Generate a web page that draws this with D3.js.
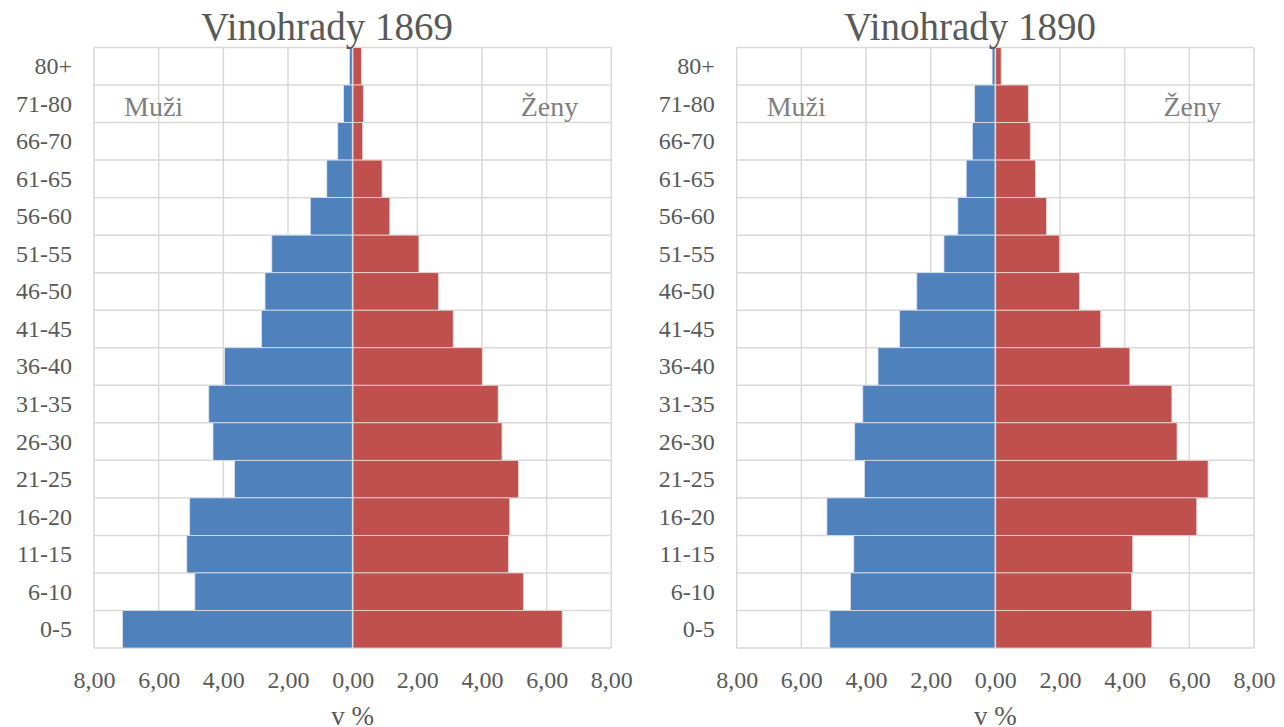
<!DOCTYPE html>
<html>
<head>
<meta charset="utf-8">
<script src="https://cdn.jsdelivr.net/npm/d3@7"></script>
<style>
  body { margin: 0; background: #fff; }
  svg text { font-family: "Liberation Serif", "DejaVu Serif", serif; fill: #595959; }
  .grid line { stroke: #d9d9d9; stroke-width: 1.5; }
</style>
</head>
<body>
<div id="chart"></div>
<script>
// age groups listed top to bottom, as in the picture
var ageGroups = ['80+','71-80','66-70','61-65','56-60','51-55','46-50','41-45',
  '36-40','31-35','26-30','21-25','16-20','11-15','6-10','0-5'];

var men1869   = [0.10, 0.28, 0.46, 0.80, 1.31, 2.50, 2.71, 2.82, 3.96, 4.45, 4.32, 3.65, 5.04, 5.13, 4.88, 7.12];
var women1869 = [0.27, 0.33, 0.31, 0.91, 1.15, 2.05, 2.66, 3.11, 4.01, 4.50, 4.62, 5.13, 4.86, 4.82, 5.28, 6.48];

var men1890   = [0.10, 0.64, 0.71, 0.90, 1.16, 1.59, 2.43, 2.96, 3.63, 4.10, 4.35, 4.05, 5.21, 4.38, 4.48, 5.12];
var women1890 = [0.18, 1.02, 1.08, 1.24, 1.58, 1.98, 2.60, 3.26, 4.16, 5.46, 5.62, 6.58, 6.23, 4.25, 4.21, 4.84];

var xTicks = [-8, -6, -4, -2, 0, 2, 4, 6, 8];

var panels = [
  { title: 'Vinohrady 1869', men: men1869, women: women1869, left: 94, right: 611.3, titleX: 327 },
  { title: 'Vinohrady 1890', men: men1890, women: women1890, left: 736.7, right: 1254, titleX: 970 }
];

var W = 1284, H = 727, plotTop = 47.5, plotBottom = 648;

var svg = d3.select('#chart').append('svg')
  .attr('width', W).attr('height', H);

var fmt = function(d) { return Math.abs(d).toFixed(2).replace('.', ','); };

panels.forEach(drawPanel);

function drawPanel(p) {
  var x = d3.scaleLinear().domain([-8, 8]).range([p.left, p.right]);
  var y = d3.scaleBand().domain(ageGroups).range([plotTop, plotBottom]).padding(0);

  var g = svg.append('g');

  // gridlines
  var grid = g.append('g').attr('class', 'grid');
  grid.selectAll('line.v')
    .data(xTicks)
    .enter().append('line')
    .attr('x1', d => x(d)).attr('x2', d => x(d))
    .attr('y1', plotTop).attr('y2', plotBottom);
  grid.selectAll('line.h')
    .data(ageGroups.concat(['end']))
    .enter().append('line')
    .attr('x1', p.left).attr('x2', p.right)
    .attr('y1', (d, i) => plotTop + i * y.step())
    .attr('y2', (d, i) => plotTop + i * y.step());

  // bars
  g.selectAll('rect.men')
    .data(p.men)
    .enter().append('rect')
    .attr('class', 'men')
    .attr('x', d => x(-d))
    .attr('width', d => x(0) - x(-d))
    .attr('y', (d, i) => y(ageGroups[i]))
    .attr('height', y.bandwidth())
    .attr('fill', '#4f81bd')
    .attr('stroke', '#dde4ee').attr('stroke-width', 0.8);

  g.selectAll('rect.women')
    .data(p.women)
    .enter().append('rect')
    .attr('class', 'women')
    .attr('x', x(0))
    .attr('width', d => x(d) - x(0))
    .attr('y', (d, i) => y(ageGroups[i]))
    .attr('height', y.bandwidth())
    .attr('fill', '#c0504d')
    .attr('stroke', '#eedcdc').attr('stroke-width', 0.8);

  // vertical axis line at zero
  g.append('line')
    .attr('x1', x(0)).attr('x2', x(0))
    .attr('y1', plotTop).attr('y2', plotBottom)
    .attr('stroke', '#d9d9d9').attr('stroke-width', 1.6);

  // category labels
  var yAxis = g.append('g')
    .attr('transform', 'translate(' + (p.left - 22) + ',0)')
    .call(d3.axisLeft(y).tickSize(0).tickPadding(0));
  yAxis.select('.domain').remove();
  yAxis.selectAll('text')
    .attr('font-size', 24)
    .attr('dy', '0.33em')
    .style('font-family', '"Liberation Serif", serif')
    .attr('fill', '#595959');

  // x tick labels
  var xAxis = g.append('g')
    .attr('transform', 'translate(0,' + plotBottom + ')')
    .call(d3.axisBottom(x).tickValues(xTicks).tickFormat(fmt).tickSize(0).tickPadding(0));
  xAxis.select('.domain').remove();
  xAxis.selectAll('text')
    .attr('font-size', 24)
    .attr('y', 40)
    .attr('dy', 0)
    .style('font-family', '"Liberation Serif", serif')
    .attr('fill', '#595959');

  // axis title
  g.append('text')
    .attr('x', x(0)).attr('y', 725)
    .attr('text-anchor', 'middle')
    .attr('font-size', 27)
    .text('v %');

  // chart title
  g.append('text')
    .attr('x', p.titleX).attr('y', 40)
    .attr('text-anchor', 'middle')
    .attr('font-size', 39)
    .text(p.title);

  // series names
  g.append('text')
    .attr('x', p.left + 30).attr('y', 116)
    .attr('font-size', 28)
    .style('fill', '#7f7f7f')
    .text('Muži');
  g.append('text')
    .attr('x', p.right - 33).attr('y', 116)
    .attr('text-anchor', 'end')
    .attr('font-size', 28)
    .style('fill', '#7f7f7f')
    .text('Ženy');
}
</script>
</body>
</html>
